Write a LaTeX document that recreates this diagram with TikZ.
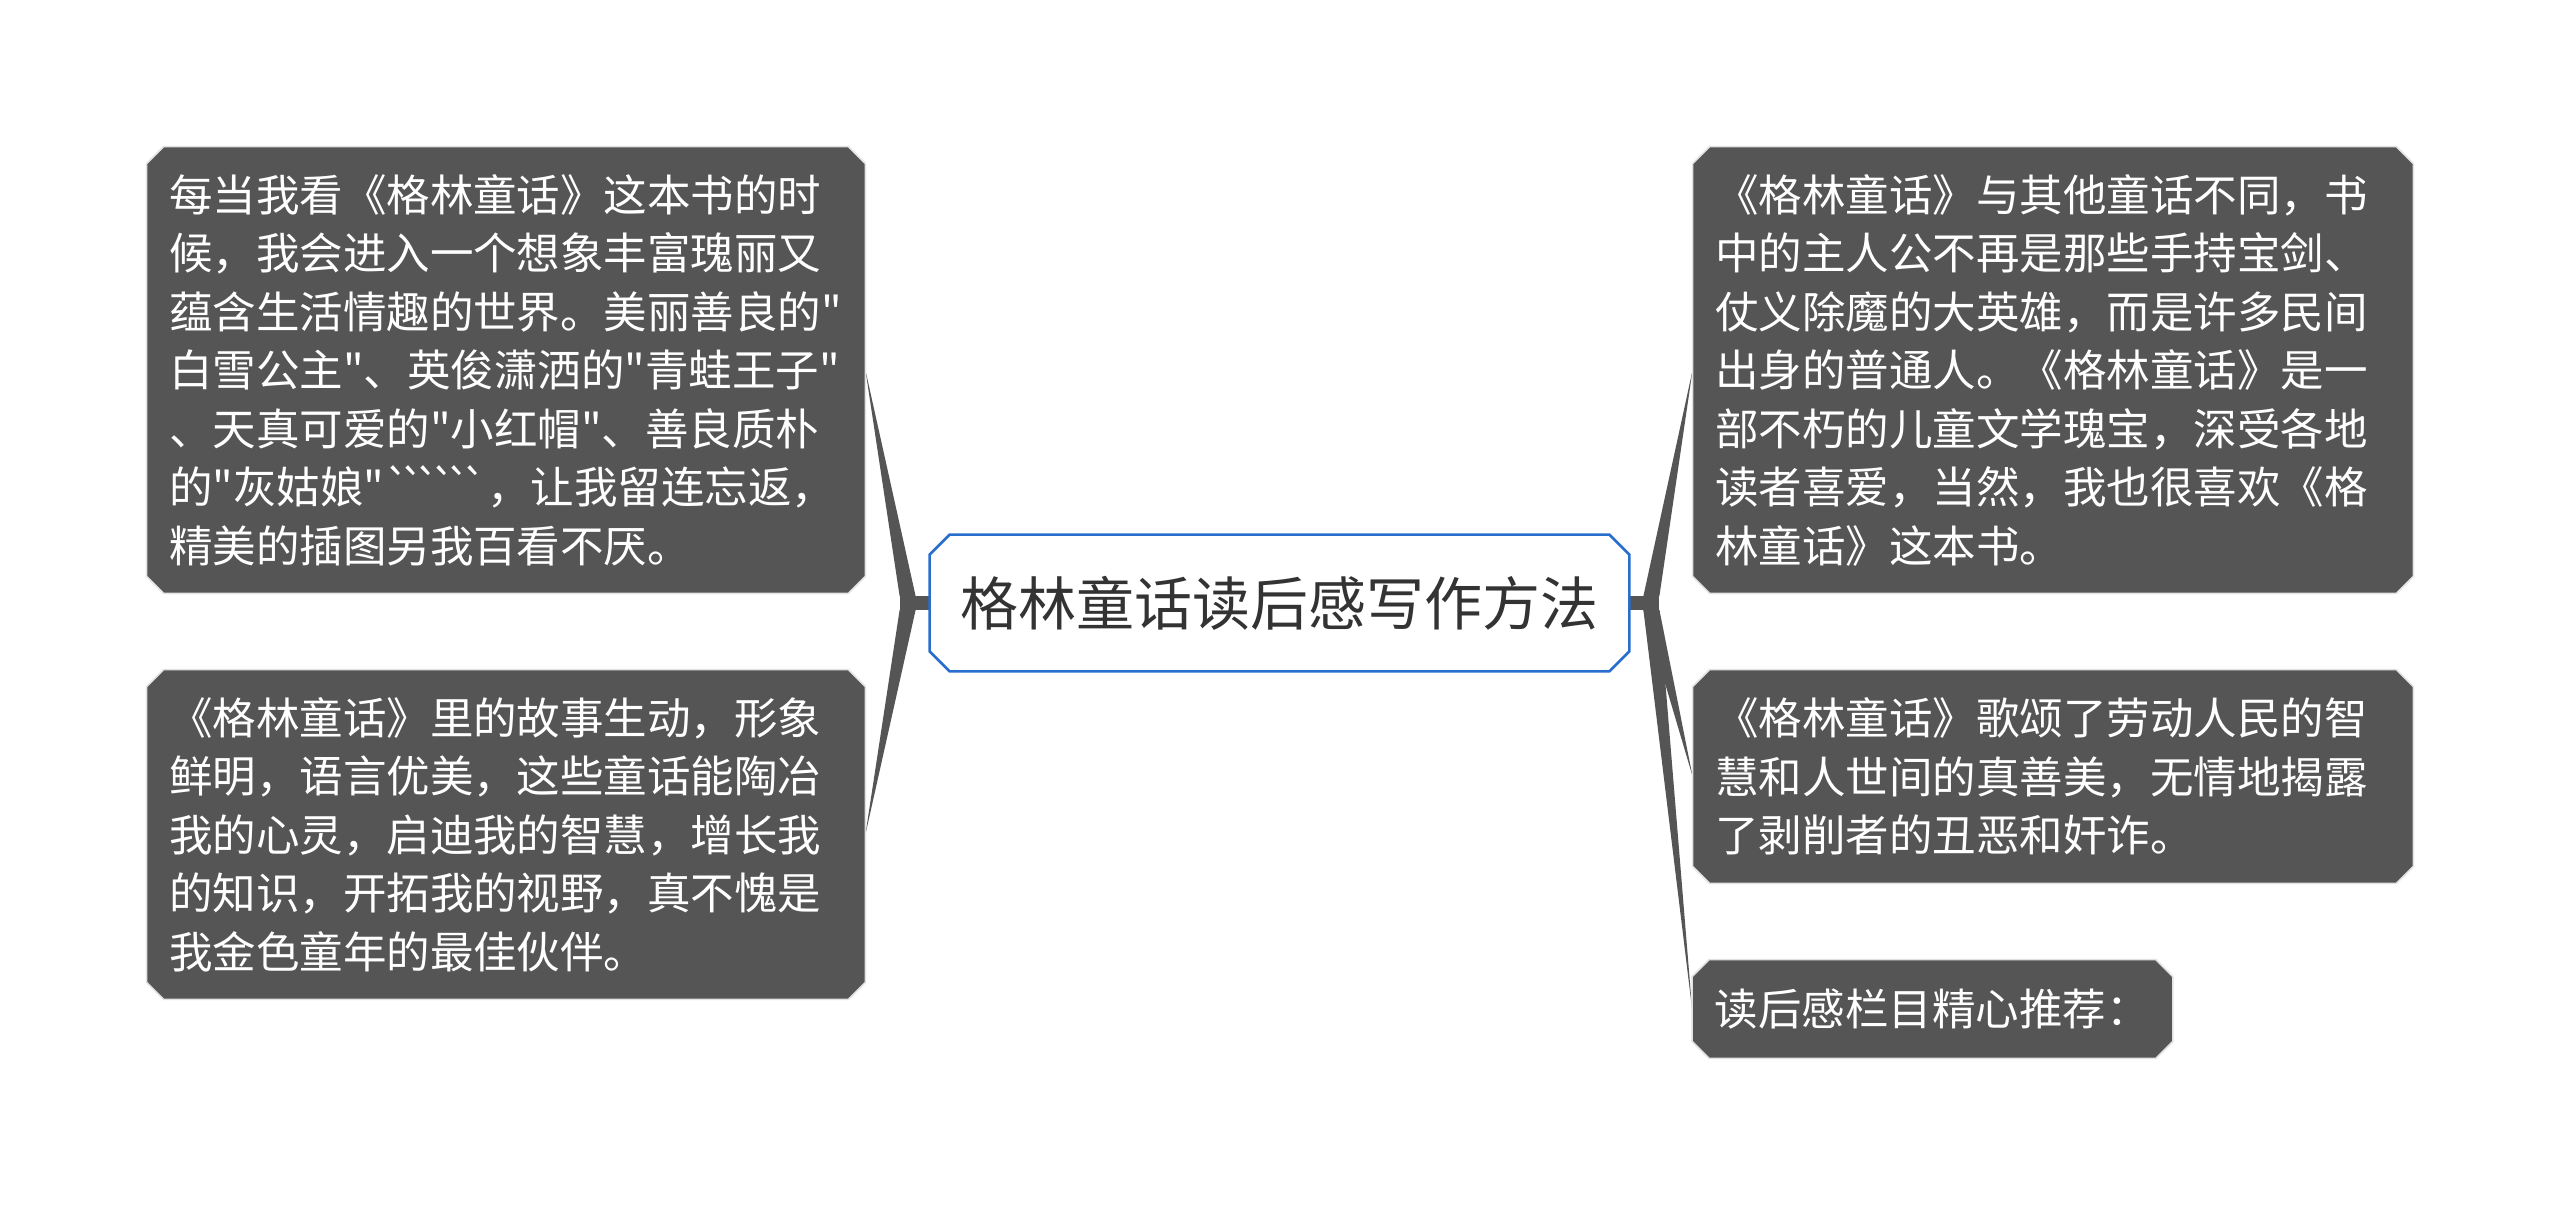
\documentclass[tikz,border=0pt]{standalone}
\usepackage{fontspec}
\newfontfamily\cjk{Noto Sans CJK SC}[Ligatures=TeXOff]
\pgfdeclarelayer{bg}
\pgfsetlayers{bg,main}
\definecolor{nodegray}{RGB}{85,85,85}
\definecolor{edgegray}{RGB}{85,85,85}
\definecolor{rimgray}{RGB}{226,226,226}
\definecolor{rootblue}{RGB}{40,110,205}
\definecolor{roottext}{RGB}{51,51,51}
\newcommand\bt{`\kern-5.5pt}
\newcommand\chambox[3]{%
  \path[#3] ([xshift=#2]#1.north west) -- ([xshift=-#2]#1.north east)
    -- ([yshift=-#2]#1.north east) -- ([yshift=#2]#1.south east)
    -- ([xshift=-#2]#1.south east) -- ([xshift=#2]#1.south west)
    -- ([yshift=#2]#1.south west) -- ([yshift=-#2]#1.north west) -- cycle;}
\begin{document}
\begin{tikzpicture}[x=0.5pt,y=-0.5pt,
  leaf/.style={rectangle, inner xsep=11pt, inner ysep=0pt, align=left, text=white,
    font=\cjk\fontsize{21.75pt}{29.25pt}\selectfont},
  rootnode/.style={rectangle, inner sep=0pt, minimum width=349.5pt, minimum height=68pt,
    text=roottext, font=\cjk\fontsize{29pt}{34pt}\selectfont},
  leaffill/.style={fill=nodegray, draw=rimgray, line width=0.8pt},
  rootfill/.style={fill=white, draw=rootblue, line width=1.3pt},
  branch/.style={fill=edgegray}]
\useasboundingbox (0,0) rectangle (2560,1207);

\node[rootnode] (C) at (1279.5,603) {格林童话读后感写作方法};

\node[leaf, text width=337pt, minimum height=223pt] (L1) at (506,370)
 {每当我看《格林童话》这本书的时\\
  候，我会进入一个想象丰富瑰丽又\\
  蕴含生活情趣的世界。美丽善良的"\\
  白雪公主"、英俊潇洒的"青蛙王子"\\
  、天真可爱的"小红帽"、善良质朴\\
  的"灰姑娘"\bt\bt\bt\bt\bt`，让我留连忘返，\\
  精美的插图另我百看不厌。};

\node[leaf, text width=337pt, minimum height=164.5pt] (L2) at (506,834.5)
 {《格林童话》里的故事生动，形象\\
  鲜明，语言优美，这些童话能陶冶\\
  我的心灵，启迪我的智慧，增长我\\
  的知识，开拓我的视野，真不愧是\\
  我金色童年的最佳伙伴。};

\node[leaf, text width=338pt, minimum height=223pt] (R1) at (2053,370)
 {《格林童话》与其他童话不同，书\\
  中的主人公不再是那些手持宝剑、\\
  仗义除魔的大英雄，而是许多民间\\
  出身的普通人。《格林童话》是一\\
  部不朽的儿童文学瑰宝，深受各地\\
  读者喜爱，当然，我也很喜欢《格\\
  林童话》这本书。};

\node[leaf, text width=338pt, minimum height=106.5pt] (R2) at (2053,776.5)
 {《格林童话》歌颂了劳动人民的智\\
  慧和人世间的真善美，无情地揭露\\
  了剥削者的丑恶和奸诈。};

\node[leaf, text width=218pt, minimum height=49pt] (R3) at (1932.5,1009)
 {读后感栏目精心推荐：};

\begin{pgfonlayer}{bg}
  \fill[white] (0,0) rectangle (2560,1207);
  \coordinate (jl) at ([xshift=-15pt]C.west);
  \coordinate (jr) at ([xshift=15pt]C.east);
  % left side
  \fill[branch] ([yshift=3.5pt]jl) rectangle ([yshift=-3.5pt]C.west);
  \fill[branch] ([yshift=3.5pt]jl) -- ([xshift=8pt,yshift=3.5pt]jl) -- (L1.east) -- cycle;
  \fill[branch] ([yshift=-3.5pt]jl) -- ([xshift=8pt,yshift=-3.5pt]jl) -- (L2.east) -- cycle;
  % right side
  \fill[branch] ([yshift=3.5pt]C.east) rectangle ([yshift=-3.5pt]jr);
  \fill[branch] ([yshift=3.5pt]jr) -- ([xshift=-8pt,yshift=3.5pt]jr) -- (R1.west) -- cycle;
  \fill[branch] ([yshift=-3.5pt]jr) -- ([xshift=-8pt,yshift=-3.5pt]jr) -- (R2.west) -- cycle;
  \fill[branch] ([yshift=-3.5pt]jr) -- ([xshift=-8pt,yshift=-3.5pt]jr) -- (R3.west) -- cycle;
  % node boxes
  \chambox{C}{10pt}{rootfill}
  \chambox{L1}{8.5pt}{leaffill}
  \chambox{L2}{8.5pt}{leaffill}
  \chambox{R1}{8.5pt}{leaffill}
  \chambox{R2}{8.5pt}{leaffill}
  \chambox{R3}{8.5pt}{leaffill}
\end{pgfonlayer}
\end{tikzpicture}
\end{document}
